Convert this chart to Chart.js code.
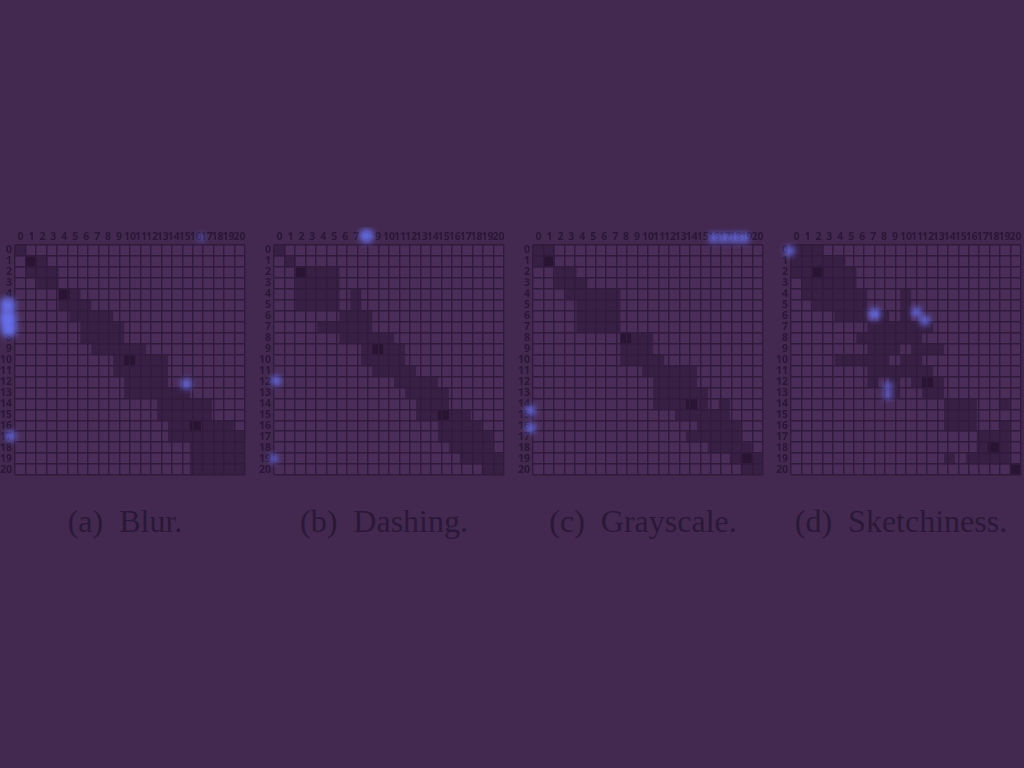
<!DOCTYPE html>
<html>
<head>
<meta charset="utf-8">
<script src="https://cdn.jsdelivr.net/npm/chart.js@4/dist/chart.umd.min.js"></script>
<style>
  html, body { margin: 0; padding: 0; width: 1024px; height: 768px; overflow: hidden; background: #432950; }
  canvas { position: absolute; }
  .cap { position: absolute; top: 505px; font-family: "Liberation Serif", "Times New Roman", serif; font-size: 32px; line-height: 32px; color: #2b1838; white-space: nowrap; transform: translateX(-50%); }
</style>
</head>
<body>
<canvas id="cA" width="258" height="258"></canvas>
<canvas id="cB" width="258" height="258"></canvas>
<canvas id="cC" width="258" height="258"></canvas>
<canvas id="cD" width="258" height="258"></canvas>
<div class="cap" id="capA"></div>
<div class="cap" id="capB"></div>
<div class="cap" id="capC"></div>
<div class="cap" id="capD"></div>
<script>
// ---------- data ----------
const colLabels = ['0','1','2','3','4','5','6','7','8','9','10','11','12','13','14','15','16','17','18','19','20'];
const rowLabels = ['0','1','2','3','4','5','6','7','8','9','10','11','12','13','14','15','16','17','18','19','20'];

// cell intensity per row (0 = light, 1 = dark, 2 = darkest), one digit per column
const blurCells = [
  "100000000000000000000",
  "021000000000000000000",
  "011100000000000000000",
  "001100000000000000000",
  "000021000000000000000",
  "000011100000000000000",
  "000001111000000000000",
  "000000111100000000000",
  "000000111100000000000",
  "000000011111000000000",
  "000000000121110000000",
  "000000000111110000000",
  "000000000011110000000",
  "000000000011111100000",
  "000000000000011111000",
  "000000000000011111000",
  "000000000000001121110",
  "000000000000001111111",
  "000000000000000011111",
  "000000000000000011111",
  "000000000000000011111"
];
const dashingCells = [
  "100000000000000000000",
  "010000000000000000000",
  "002111000000000000000",
  "001111000000000000000",
  "001111010000000000000",
  "001111010000000000000",
  "000000111000000000000",
  "000011111000000000000",
  "000000111110000000000",
  "000000001211000000000",
  "000000001111000000000",
  "000000000111100000000",
  "000000000001111000000",
  "000000000000111100000",
  "000000000000011100000",
  "000000000000011211000",
  "000000000000000111100",
  "000000000000000111110",
  "000000000000000011110",
  "000000000000000001111",
  "000000000000000000011"
];
const grayscaleCells = [
  "110000000000000000000",
  "120000000000000000000",
  "001100000000000000000",
  "001110000000000000000",
  "000111110000000000000",
  "000011110000000000000",
  "000011110000000000000",
  "000011110000000000000",
  "000000002110000000000",
  "000000001110000000000",
  "000000001111000000000",
  "000000000011111000000",
  "000000000001111000000",
  "000000000001111100000",
  "000000000001112101000",
  "000000000000011111000",
  "000000000000000111100",
  "000000000000001111100",
  "000000000000000011110",
  "000000000000000000121",
  "000000000000000000011"
];
const sketchCells = [
  "111000000000000000000",
  "111110000000000000000",
  "112111000000000000000",
  "011111000000000000000",
  "011111100010000000000",
  "001111100010000000000",
  "000011101010000000000",
  "000000011111100000000",
  "000000111111000000000",
  "000000011101110000000",
  "000011111011000000000",
  "000000011111100000000",
  "000000010101210000000",
  "000000000100110000000",
  "000000000000001110010",
  "000000000000001110000",
  "000000000000001110010",
  "000000000000000001110",
  "000000000000000001210",
  "000000000000001011110",
  "000000000000000000002"
];

// gaze blobs, in cell units (column, row) and pixel radius
const blurBlobX = [-1.7, -1.7, -1.6, 15.4, -1.4, 16.8];
const blurBlobY = [5.0, 6.2, 7.2, 12.2, 16.95, -1.2];
const blurBlobR = [8, 9, 8, 5, 5, 3];
const dashingBlobX = [7.85, -0.8, -1.05];
const dashingBlobY = [-1.33, 11.9, 19.0];
const dashingBlobR = [7, 5, 4];
const grayscaleBlobX = [16.3, 17.3, 18.3, 19.2, -1.25, -1.25];
const grayscaleBlobY = [-1.15, -1.15, -1.15, -1.15, 14.6, 16.2];
const grayscaleBlobR = [5, 5, 5, 5, 5, 5];
const sketchBlobX = [-1.15, 7.0, 11.0, 11.8, 8.3, 8.3];
const sketchBlobY = [0.05, 5.8, 5.65, 6.4, 12.4, 13.2];
const sketchBlobR = [5, 6, 5, 5, 4, 4];

const captionTags = ['(a)', '(b)', '(c)', '(d)'];
const captionNames = ['Blur.', 'Dashing.', 'Grayscale.', 'Sketchiness.'];

// ---------- styling / layout ----------
const levelColors = ['#4a2d59', '#382044', '#291434'];
const lineColor = '#311b3d';
const tickColor = '#2a1636';
const blobColor = 'rgba(108,118,250,0.9)';
const tickFont = { family: 'Open Sans', size: 10.5, weight: 'bold' };
const AXIS = 18;      // px reserved for tick labels
const GRID = 230;     // px grid size
const PAD = 10;
const panels = [
  { id: 'cA', cap: 'capA', left: 15,  top: 245, cells: blurCells,      bx: blurBlobX,      by: blurBlobY,      br: blurBlobR },
  { id: 'cB', cap: 'capB', left: 274, top: 245, cells: dashingCells,   bx: dashingBlobX,   by: dashingBlobY,   br: dashingBlobR },
  { id: 'cC', cap: 'capC', left: 533, top: 245, cells: grayscaleCells, bx: grayscaleBlobX, by: grayscaleBlobY, br: grayscaleBlobR },
  { id: 'cD', cap: 'capD', left: 791, top: 245, cells: sketchCells,    bx: sketchBlobX,    by: sketchBlobY,    br: sketchBlobR }
];

// paints the gaze blobs (bubble elements placed by the library's scales) softly, on top of everything
const blobPainter = {
  id: 'blobPainter',
  afterDraw(chart) {
    const ctx = chart.ctx;
    chart.data.datasets.forEach((ds, i) => {
      const meta = chart.getDatasetMeta(i);
      if (meta.type !== 'bubble') return;
      ctx.save();
      ctx.filter = 'blur(3px)';
      ctx.fillStyle = ds.backgroundColor;
      meta.data.forEach(el => {
        ctx.beginPath();
        ctx.arc(el.x, el.y, el.options.radius, 0, Math.PI * 2);
        ctx.fill();
      });
      ctx.restore();
    });
  }
};

const boundaryTicks = s => { s.ticks = rowLabels.concat(['']).map((_, i) => ({ value: i - 0.5 })); };

panels.forEach((p, k) => {
  const cv = document.getElementById(p.id);
  cv.style.left = (p.left - AXIS) + 'px';
  cv.style.top = (p.top - AXIS) + 'px';
  cv.width = AXIS + GRID + PAD;
  cv.height = AXIS + GRID + PAD;

  const rows = p.cells.map(s => s.split('').map(Number));
  const datasets = [{
    type: 'bubble', xAxisID: 'gx', yAxisID: 'y', order: -1, clip: false, pointStyle: false,
    data: p.bx.map((x, i) => ({ x: x, y: p.by[i], r: p.br[i] })),
    backgroundColor: blobColor, borderWidth: 0
  }];
  rowLabels.forEach((lab, r) => {
    datasets.push({
      type: 'bar', xAxisID: 'x', yAxisID: 'y',
      data: rows[r].map(() => [r - 0.5, r + 0.5]),
      backgroundColor: rows[r].map(v => levelColors[v]),
      borderWidth: 0, grouped: false, barPercentage: 1, categoryPercentage: 1
    });
  });

  new Chart(cv, {
    type: 'bar',
    data: { labels: colLabels, datasets: datasets },
    plugins: [blobPainter],
    options: {
      responsive: false, animation: false,
      layout: { padding: { left: 0, top: 0, right: PAD, bottom: PAD } },
      plugins: { legend: { display: false }, tooltip: { enabled: false } },
      scales: {
        x: {
          type: 'category', position: 'top', offset: true,
          grid: { display: false, drawTicks: false }, border: { display: false },
          ticks: { color: tickColor, font: tickFont, padding: 2, autoSkip: false, maxRotation: 0, minRotation: 0 },
          afterFit: s => { s.height = AXIS; }
        },
        gx: {
          type: 'linear', position: 'top', min: -0.5, max: 20.5,
          grid: { color: lineColor, lineWidth: 1.4, drawTicks: false, z: 1 }, border: { display: false },
          ticks: { display: false },
          afterBuildTicks: boundaryTicks,
          afterFit: s => { s.height = 0; }
        },
        y: {
          type: 'linear', position: 'left', min: -0.5, max: 20.5, reverse: true,
          grid: { display: false, drawTicks: false }, border: { display: false },
          ticks: { color: tickColor, font: tickFont, padding: 3, autoSkip: false,
                   callback: v => rowLabels[Math.round(v)] },
          afterBuildTicks: s => { s.ticks = rowLabels.map((_, i) => ({ value: i })); },
          afterFit: s => { s.width = AXIS; }
        },
        gy: {
          type: 'linear', position: 'left', min: -0.5, max: 20.5, reverse: true,
          grid: { color: lineColor, lineWidth: 1.4, drawTicks: false, z: 1 }, border: { display: false },
          ticks: { display: false },
          afterBuildTicks: boundaryTicks,
          afterFit: s => { s.width = 0; }
        }
      }
    }
  });

  const cap = document.getElementById(p.cap);
  cap.innerHTML = captionTags[k] + '&nbsp;&nbsp;' + captionNames[k];
  cap.style.left = (p.left + GRID / 2 - 5) + 'px';
});
</script>
</body>
</html>
